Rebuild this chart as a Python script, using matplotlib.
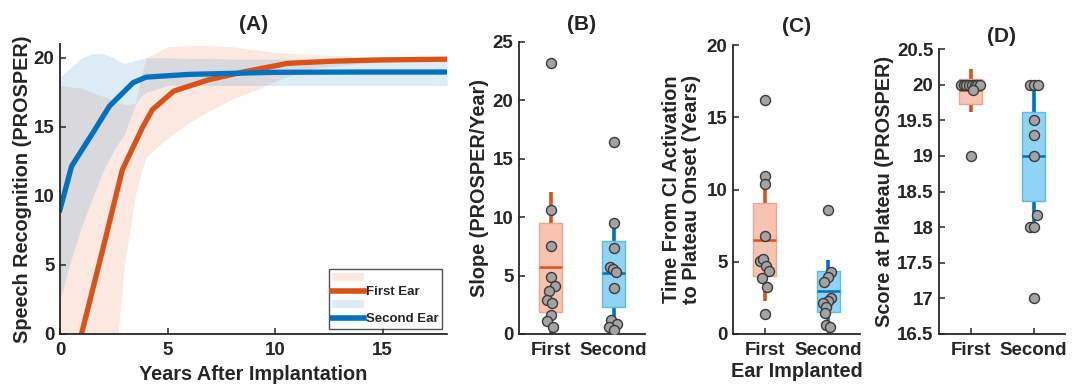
import matplotlib
matplotlib.use("Agg")
import matplotlib.pyplot as plt
import numpy as np
from matplotlib.patches import Patch
from matplotlib.lines import Line2D

plt.rcParams['font.family'] = ['Liberation Sans', 'DejaVu Sans']
plt.rcParams['font.weight'] = 'bold'
plt.rcParams['axes.labelweight'] = 'bold'
plt.rcParams['axes.titleweight'] = 'bold'

TXT = '#262626'
RED = '#d95319'
BLUE = '#0072bd'

# ---------------- Panel A data ----------------
yrs_first = [0, 1, 2, 2.9, 3.85, 4.3, 5.3, 6.9, 8.6, 10.6, 12.6, 15, 18]
mean_first = [-6.2, 0, 6.2, 11.9, 15.0, 16.25, 17.6, 18.4, 19.0, 19.6, 19.75, 19.85, 19.9]
yrs_second = [0, 0.54, 1.54, 2.3, 3.4, 4.0, 6, 10, 14, 18]
mean_second = [9.0, 12.15, 14.6, 16.5, 18.2, 18.6, 18.8, 18.95, 18.97, 18.97]

band_x = [0, 0.5, 1, 1.5, 2, 2.5, 2.7, 3, 3.5, 3.75, 4, 5, 6, 7, 8, 9, 10, 11, 12, 14, 16, 18]
first_lo = [-5, -5, -5, -5, -5, -1, 0, 5, 10, 11.5, 12.8, 14.2, 15.3, 16.2, 17.0, 17.6, 18.3, 18.9, 19.3, 19.6, 19.7, 19.7]
first_hi = [18.0, 17.9, 17.8, 17.5, 17.2, 16.9, 16.8, 16.6, 16.7, 18.5, 20.0, 20.8, 20.9, 20.9, 20.8, 20.6, 20.4, 20.3, 20.2, 20.1, 20.1, 20.1]
second_lo = [2.5, 5.3, 7.8, 9.8, 11.8, 13.3, 13.8, 14.5, 16.6, 17.2, 17.5, 18.0, 18.0, 18.0, 18.0, 18.0, 18.0, 18.0, 18.0, 18.0, 18.0, 18.0]
second_hi = [18.6, 19.3, 20.0, 20.3, 20.3, 20.0, 19.8, 19.6, 19.8, 19.9, 20.0, 20.0, 19.95, 19.95, 19.9, 19.9, 19.9, 19.9, 19.9, 19.9, 19.9, 19.9]

groups = ['First', 'Second']

# ---------------- Panel B data (slope) ----------------
slope_first = [23.2, 10.65, 7.51, 4.91, 4.09, 3.66, 2.92, 2.63, 1.63, 1.14, 0.57]
slope_first_jit = [0, 0, 0, 0, 0.07, -0.026, -0.063, 0.02, 0, -0.053, 0.042]
slope_second = [16.4, 9.48, 7.4, 5.77, 5.54, 5.34, 3.9, 1.2, 0.86, 0.63, 0.34]
slope_second_jit = [0, 0, 0, -0.053, -0.01, 0.037, 0, -0.037, 0.053, -0.069, 0]
slope_box = {'First': (1.86, 5.71, 9.54, 0.0, 12.2), 'Second': (2.28, 5.2, 7.96, 0.3, 9.8)}

# ---------------- Panel C data (time to plateau) ----------------
time_first = [16.2, 10.9, 10.4, 6.76, 5.08, 5.2, 4.72, 4.37, 3.91, 3.22, 1.37]
time_first_jit = [0, 0, 0, 0, -0.08, -0.03, 0.02, 0.06, -0.04, 0.03, 0]
time_second = [8.58, 4.31, 3.97, 3.62, 2.47, 2.28, 2.12, 1.89, 1.43, 0.62, 0.5]
time_second_jit = [-0.01, 0.04, -0.01, -0.06, 0.05, 0, -0.09, -0.03, -0.05, -0.04, 0.02]
time_box = {'First': (3.98, 6.5, 9.07, 2.3, 10.1), 'Second': (1.55, 3.0, 4.38, 0.5, 5.12)}

# ---------------- Panel D data (score at plateau) ----------------
score_first = [20, 20, 20, 20, 20, 20, 20, 20, 19.93, 19.0]
score_first_jit = [-0.15, -0.11, -0.07, -0.03, 0.02, 0.07, 0.11, 0.15, 0.04, 0]
score_second = [20, 20, 20, 19.5, 19.3, 19.0, 18.17, 18.0, 18.0, 17.0]
score_second_jit = [-0.05, 0, 0.07, 0, 0, 0, 0.05, -0.05, 0, 0]
score_box = {'First': (19.73, 19.92, 20.08, 19.62, 20.22), 'Second': (18.37, 19.0, 19.62, 18.05, 20.0)}

fig = plt.figure(figsize=(10.73, 3.88), dpi=100)
W, H = 1073, 388

def add_ax(l, r, t, b):
    return fig.add_axes([l / W, (H - b) / H, (r - l) / W, (b - t) / H])

FS_TICK = 13.5
FS_LAB = 14.3
FS_TITLE = 15

def style(ax):
    for s in ['top', 'right']:
        ax.spines[s].set_visible(False)
    for s in ['left', 'bottom']:
        ax.spines[s].set_color(TXT)
        ax.spines[s].set_linewidth(1.3)
    ax.tick_params(direction='in', length=4, width=1.1, colors=TXT, labelsize=FS_TICK)
    ax.tick_params(axis='x', pad=6)
    ax.tick_params(axis='y', pad=4)
    for lab in ax.get_xticklabels() + ax.get_yticklabels():
        lab.set_fontweight('bold')

# ---------- A ----------
axA = add_ax(60, 447, 44, 334)
axA.fill_between(band_x, first_lo, first_hi, color=RED, alpha=0.13, lw=0)
axA.fill_between(band_x, second_lo, second_hi, color=BLUE, alpha=0.13, lw=0)
axA.plot(yrs_first, mean_first, color=RED, lw=3.8)
axA.plot(yrs_second, mean_second, color=BLUE, lw=3.8)
axA.set_xlim(0, 18)
axA.set_ylim(0, 21)
axA.set_xticks([0, 5, 10, 15])
axA.set_yticks([0, 5, 10, 15, 20])
style(axA)
axA.set_xlabel('Years After Implantation', fontsize=FS_LAB, color=TXT, labelpad=4)
axA.set_ylabel('Speech Recognition (PROSPER)', fontsize=FS_LAB, color=TXT, labelpad=1)
axA.set_title('(A)', fontsize=FS_TITLE, color=TXT, pad=10)
handles = [Patch(facecolor=RED, alpha=0.13, lw=0), Line2D([], [], color=RED, lw=4),
           Patch(facecolor=BLUE, alpha=0.13, lw=0), Line2D([], [], color=BLUE, lw=4)]
leg = axA.legend(handles, ['', 'First Ear', '', 'Second Ear'], loc='lower right',
                 fontsize=9.5, frameon=True, fancybox=False, edgecolor=TXT,
                 handlelength=2.4, handleheight=0.6, handletextpad=0.15, borderpad=0.25,
                 labelspacing=0.12, borderaxespad=0.4)
leg.get_frame().set_linewidth(1.0)
for t in leg.get_texts():
    t.set_fontweight('bold')
    t.set_color(TXT)

# ---------- Box panels ----------
BOXC = {'First': ('#f9c3b2', '#f2a48c', RED), 'Second': ('#8fd3f5', '#5cbbe8', BLUE)}

def box_panel(ax, stats, vals, jits):
    for i, g in enumerate(groups):
        q1, med, q3, wlo, whi = stats[g]
        fill, edge, line = BOXC[g]
        x = i + 1
        ax.vlines(x, wlo, whi, color=line, lw=2.6, zorder=1)
        ax.bar(x, q3 - q1, bottom=q1, width=0.36, color=fill, edgecolor=edge, lw=1.0, zorder=2)
        ax.hlines(med, x - 0.18, x + 0.18, color=line, lw=1.8, zorder=3)
        ax.scatter(np.full(len(vals[i]), x) + np.array(jits[i]), vals[i], s=52,
                   facecolor='#a3a3a3', edgecolor='#3a3a3a', lw=1.0, zorder=4)
    ax.set_xlim(0.5, 2.5)
    ax.set_xticks([1, 2])
    ax.set_xticklabels(groups)
    style(ax)

axB = add_ax(519, 645, 42, 334)
box_panel(axB, slope_box, [slope_first, slope_second], [slope_first_jit, slope_second_jit])
axB.set_ylim(0, 25)
axB.set_yticks([0, 5, 10, 15, 20, 25])
axB.set_ylabel('Slope (PROSPER/Year)', fontsize=FS_LAB, color=TXT, labelpad=3)
axB.set_title('(B)', fontsize=FS_TITLE, color=TXT, pad=9)

axC = add_ax(733, 860, 45, 334)
box_panel(axC, time_box, [time_first, time_second], [time_first_jit, time_second_jit])
axC.set_ylim(0, 20)
axC.set_yticks([0, 5, 10, 15, 20])
axC.set_ylabel('Time From CI Activation\nto Plateau Onset (Years)', fontsize=FS_LAB, color=TXT,
               labelpad=4, linespacing=1.1)
axC.set_xlabel('Ear Implanted', fontsize=FS_LAB, color=TXT, labelpad=2)
axC.set_title('(C)', fontsize=FS_TITLE, color=TXT, pad=9)

axD = add_ax(939, 1065, 49, 334)
box_panel(axD, score_box, [score_first, score_second], [score_first_jit, score_second_jit])
axD.set_ylim(16.5, 20.5)
yt = [16.5, 17, 17.5, 18, 18.5, 19, 19.5, 20, 20.5]
axD.set_yticks(yt)
axD.set_yticklabels([f'{v:g}' for v in yt])
for lab in axD.get_yticklabels():
    lab.set_fontweight('bold')
axD.set_ylabel('Score at Plateau (PROSPER)', fontsize=FS_LAB, color=TXT, labelpad=2)
axD.set_title('(D)', fontsize=FS_TITLE, color=TXT, pad=5)

fig.savefig('out.png', dpi=100)
